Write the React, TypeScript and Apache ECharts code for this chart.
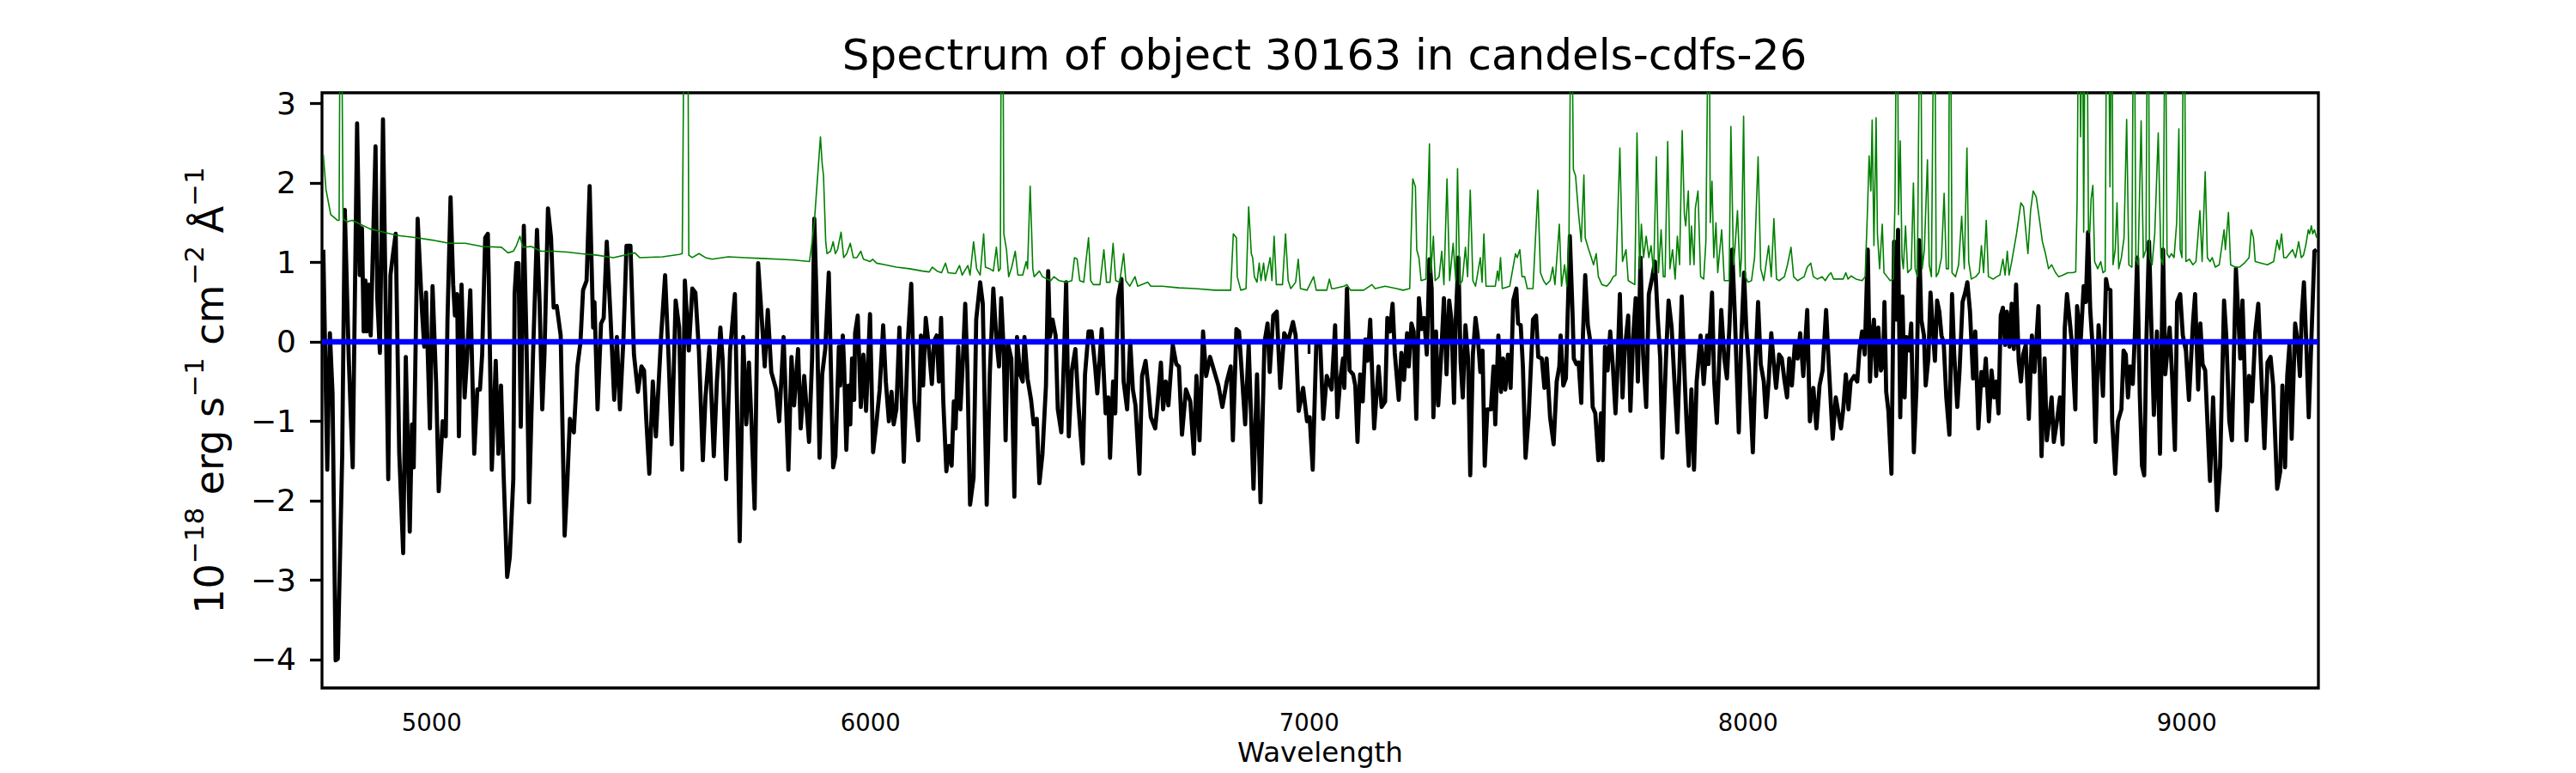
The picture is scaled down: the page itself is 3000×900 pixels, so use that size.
import React, { useEffect, useRef } from "react";
import * as echarts from "echarts";

const TITLE = "Spectrum of object 30163 in candels-cdfs-26";
const X_LABEL = "Wavelength";
const X_TICKS = [5000, 6000, 7000, 8000, 9000];
const Y_TICKS = [-4, -3, -2, -1, 0, 1, 2, 3];
const X_RANGE = [4750, 9300];
const Y_RANGE = [-4.357, 3.135];

// Flux (black): [wavelength, flux]
const fluxA: [number, number][] = [
  [4753,1.16],[4762,-1.61],[4768,0.11],[4774,-0.65],[4781,-4.01],[4786,-3.99],[4796,-1.44],[4802,1.66],[4811,-0.21],[4820,-1.58],[4830,2.75],[4836,0.84],[4841,1.43],[4845,0.13],[4849,0.77],[4852,0.13],[4856,0.72],[4861,0.08],[4872,2.46],[4876,0.55],[4882,-0.14],[4889,2.8],[4895,0.52],[4901,-1.73],[4906,0.84],[4912,1.11],[4918,1.36],[4926,-1.39],[4935,-2.66],[4941,-0.19],[4950,-2.39],[4955,-1.04],[4959,-1.58],[4968,1.55],[4978,0.38],[4983,-0.06],[4987,0.62],[4996,-1.09],[5002,0.7],[5010,-0.5],[5016,-1.88],[5025,-1.0],[5032,-1.19],[5036,0.28],[5043,1.82],[5049,0.72],[5053,0.33],[5058,0.6],[5062,-1.19],[5068,0.72],[5075,-0.7],[5081,-0.16],[5088,0.65],[5097,-1.41],[5104,-0.6],[5110,-0.6],[5115,-0.16],[5122,1.31],[5128,1.36],[5130,0.82],[5137,-1.61],[5146,-0.24],[5152,-1.41],[5158,-0.55],[5164,-1.68],[5172,-2.96],[5178,-2.71],[5186,-1.73],[5189,0.6],[5193,0.99],[5198,0.99],[5203,-1.07],[5210,1.46],[5216,0.03],[5222,-2.02],[5231,-0.16],[5240,1.41],[5246,0.48],[5252,-0.85],[5257,-0.16],[5265,1.68],[5272,1.31],[5278,0.43],[5285,0.45],[5294,0.08],[5303,-2.44],[5309,-1.78],[5315,-0.97],[5324,-1.14],[5332,-0.31],[5339,-0.01],[5345,0.65],[5353,0.77],[5360,1.96],[5368,0.18],[5371,0.5],[5378,-0.85],[5386,0.23],[5392,0.3],[5399,1.26],[5407,0.38],[5416,-0.73],[5422,0.06],[5429,-0.85],[5437,0.03],[5444,1.21],[5453,1.21],[5461,-0.16],[5470,-0.63],[5478,-0.31],[5484,-0.36],[5489,-0.97],[5496,-1.66],[5504,-0.5],[5511,-1.19],[5523,0.08],[5532,0.84],[5540,-0.21],[5547,-1.29],[5556,0.52],[5564,0.18],[5571,-1.61],[5577,0.77],[5586,-0.11],[5594,0.67],[5601,0.62],[5609,-0.11],[5618,-1.49],[5624,-0.7],[5633,-0.06],[5643,-1.44],[5650,-0.5],[5658,0.18],[5663,-0.21],[5671,-1.73],[5680,-0.11],[5691,0.6],[5702,-2.51],[5710,0.06],[5717,-1.04],[5723,-0.26],[5729,-1.04],[5736,-2.1],[5744,0.99],[5753,0.23],[5759,-0.31],[5766,0.4],[5774,-0.38],[5785,-0.6],[5792,-1.0],[5802,0.06],[5813,-1.61],[5820,-0.19],[5826,-0.8],[5835,-0.09],[5841,-1.09],[5849,-0.43],[5860,-1.26],[5867,-0.21],[5872,1.55],[5877,0.57],[5884,-1.46],[5890,-0.41],[5897,-0.09],[5905,0.87],
];
const fluxB: [number, number][] = [
  [5915,-1.58],[5920,-1.44],[5928,-0.06],[5931,-0.55],[5937,0.08],[5940,-0.31],[5945,-1.36],[5950,-0.55],[5954,-1.04],[5958,-0.21],[5963,-0.73],[5965,0.11],[5971,0.33],[5978,-0.82],[5984,-0.16],[5990,-0.87],[5999,0.35],[6006,-1.39],[6014,-1.0],[6021,-0.6],[6029,0.21],[6035,-0.5],[6042,-1.0],[6048,-0.63],[6053,-1.04],[6059,-0.85],[6066,0.18],[6076,-1.51],[6085,-0.01],[6093,0.73],[6100,-0.75],[6109,-1.24],[6115,0.08],[6120,-0.55],[6126,0.3],[6132,-0.01],[6140,-0.53],[6145,0.01],[6151,0.08],[6156,-0.5],[6161,0.3],[6166,-0.75],[6173,-1.63],[6179,-1.31],[6185,-1.56],[6190,-0.75],[6194,-1.09],[6200,-0.06],[6205,-0.85],[6210,-0.31],[6216,0.48],[6221,-0.36],[6227,-2.05],[6235,-1.71],[6241,0.28],[6250,0.75],[6256,0.48],[6261,-1.0],[6265,-2.05],[6272,-0.41],[6280,0.67],[6287,0.03],[6293,-0.31],[6298,0.55],[6304,-0.16],[6308,-1.24],[6313,-0.01],[6321,-0.21],[6328,-1.95],[6334,0.06],[6341,-0.41],[6347,-0.5],[6351,0.06],[6358,-0.46],[6366,-0.73],[6372,-1.04],[6379,-0.97],[6385,-1.78],[6392,-1.41],[6400,-0.55],[6405,0.89],[6409,0.06],[6415,0.28],[6422,0.08],[6427,-0.85],[6435,-1.14],[6441,-0.21],[6446,0.75],[6452,-1.19],[6459,-0.36],[6467,-0.09],[6474,-0.8],[6484,-1.53],[6489,-0.41],[6497,0.13],[6504,0.13],[6512,-0.31],[6517,-0.65],[6527,0.16],[6536,-0.9],[6542,-0.7],[6546,-1.46],[6553,-0.5],[6558,-0.9],[6564,0.55],[6572,0.79],[6577,-0.5],[6585,-0.85],[6592,0.01],[6598,-0.6],[6604,-0.8],[6613,-1.66],[6619,-0.43],[6627,-0.24],[6632,-0.5],[6639,-0.95],[6649,-1.09],[6654,-0.8],[6662,-0.26],[6667,-0.85],[6673,-0.5],[6679,-0.8],[6689,-0.04],[6697,-0.28],[6703,-0.31],[6710,-1.17],[6719,-0.6],[6729,-0.75],[6737,-1.41],[6743,-0.43],[6750,-1.24],[6758,0.13],[6765,-0.43],[6774,-0.19],[6784,-0.38],[6793,-0.55],[6802,-0.82],[6812,-0.5],[6821,-0.31],[6826,-1.24],[6834,0.16],[6840,0.13],[6845,-0.28],[6854,-1.04],[6862,-0.04],[6873,-1.85],[6881,-0.41],[6889,-2.02],[6898,-0.01],[6905,0.23],[6910,-0.38],[6918,0.33],[6926,0.38],[6934,-0.58],[6943,0.11],[6952,0.01],[6963,0.25],[6969,0.08],[6976,-0.87],[6986,-0.58],[6995,-1.0],[7001,-0.95],[7008,-1.61],[7016,-0.04],[7025,-0.01],[7032,-0.97],[7040,-0.43],[7051,-0.6],[7059,0.21],[7064,-0.95],
];
const fluxC: [number, number][] = [
  [7071,-0.46],[7077,-0.21],[7080,-0.58],[7086,0.67],[7092,-0.36],[7100,-0.41],[7105,-0.55],[7110,-1.26],[7116,-0.41],[7122,-0.75],[7128,0.03],[7133,-0.24],[7139,0.28],[7148,-1.09],[7158,-0.31],[7165,-0.82],[7173,-0.75],[7178,0.3],[7184,0.13],[7190,0.48],[7195,-0.14],[7204,-0.73],[7210,-0.14],[7216,-0.48],[7223,0.11],[7227,-0.31],[7233,0.23],[7238,0.13],[7244,-0.97],[7250,0.55],[7256,0.16],[7262,0.3],[7268,-0.16],[7274,1.04],[7279,0.67],[7283,-0.95],[7289,0.13],[7294,-0.8],[7300,-0.24],[7307,0.55],[7313,-0.41],[7319,0.52],[7324,0.28],[7330,-0.77],[7334,0.28],[7340,1.06],[7345,-0.26],[7350,-0.7],[7356,0.21],[7362,-0.21],[7367,-1.68],[7373,-0.16],[7379,0.3],[7384,0.08],[7390,-0.38],[7395,-0.11],[7400,-1.56],[7406,-0.85],[7414,-0.85],[7420,-0.31],[7424,-1.04],[7431,0.08],[7437,-0.63],[7442,-0.21],[7447,-0.6],[7453,-0.16],[7459,-0.58],[7465,0.52],[7472,0.67],[7476,0.23],[7482,0.21],[7487,-0.31],[7493,-1.46],[7500,-0.95],[7510,0.28],[7517,0.33],[7522,-0.19],[7530,-0.21],[7536,-0.58],[7541,-0.21],[7549,-0.95],[7557,-1.29],[7564,-0.5],[7570,-0.31],[7573,0.08],[7579,-0.55],[7585,-0.46],[7594,1.33],[7600,0.38],[7603,-0.21],[7609,-0.28],[7614,-0.26],[7620,-0.77],[7624,0.11],[7629,0.84],[7635,0.21],[7641,-0.01],[7646,-0.82],[7652,-0.9],[7659,-1.49],[7665,-0.9],[7669,-1.49],[7674,-0.06],[7680,-0.36],[7686,0.13],[7692,-0.31],[7698,-0.9],[7702,-0.41],[7708,0.6],[7714,-0.7],[7719,-0.11],[7727,0.33],[7732,-0.87],[7738,0.03],[7744,0.55],[7749,-0.5],[7755,1.06],[7761,-0.16],[7768,-0.82],[7774,0.6],[7782,0.82],[7788,1.01],[7794,0.33],[7800,-0.21],[7805,-1.46],[7813,-0.21],[7819,0.52],[7826,0.18],[7832,-0.46],[7839,-1.14],[7844,-0.31],[7849,0.57],[7856,-0.5],[7860,-1.02],[7865,-1.56],[7871,-0.6],[7877,-1.61],[7883,-0.5],[7892,0.08],[7899,-0.53],[7907,0.08],[7910,-0.28],[7918,0.62],[7923,-0.5],[7929,-1.02],[7939,0.4],[7946,-0.21],[7952,-0.46],[7958,0.23],[7964,1.16],[7970,0.33],[7979,-1.14],[7985,0.08],[7991,0.87],[7996,0.18],[8002,-0.31],[8011,-1.39],[8017,-0.31],[8023,0.5],[8029,-0.28],[8036,-0.5],[8041,-0.95],[8047,-0.5],[8053,0.11],[8059,-0.28],[8064,-0.58],[8071,-0.16],[8077,-0.21],[8083,-0.48],[8089,-0.7],[8094,-0.21],[8100,-0.55],[8107,-0.01],[8113,-0.21],[8119,0.11],[8126,-0.43],[8135,0.4],[8141,-1.0],[8149,-0.58],[8156,-1.09],[8163,-0.55],[8170,-0.36],[8178,0.4],[8185,-0.38],[8193,-1.22],[8200,-0.7],
];
const fluxD: [number, number][] = [
  [8212,-1.09],[8217,-0.85],[8223,-0.41],[8229,-0.85],[8234,-0.5],[8242,-0.43],[8249,-0.5],[8254,-0.11],[8260,0.13],[8266,-0.16],[8273,1.16],[8278,-0.5],[8283,0.08],[8287,0.28],[8292,-0.43],[8297,0.18],[8303,-0.36],[8308,-0.28],[8311,0.5],[8315,-0.63],[8320,-0.87],[8327,-1.66],[8333,1.26],[8338,0.28],[8342,1.41],[8347,-0.95],[8352,0.57],[8357,-0.7],[8361,0.06],[8367,-0.11],[8372,0.23],[8378,-1.39],[8384,-0.58],[8390,1.28],[8395,0.28],[8401,0.08],[8405,-0.55],[8411,-0.21],[8416,0.62],[8421,0.18],[8426,-0.24],[8431,0.52],[8436,0.38],[8441,0.08],[8446,-0.01],[8452,-0.7],[8459,-1.17],[8465,0.6],[8470,-0.16],[8477,-0.82],[8482,-0.38],[8489,0.5],[8495,0.62],[8500,0.75],[8506,0.38],[8513,-0.46],[8518,0.13],[8525,-1.09],[8532,-0.38],[8537,-0.55],[8542,-0.21],[8549,-1.0],[8555,-0.36],[8561,-0.7],[8566,-0.5],[8571,-0.9],[8576,0.33],[8581,0.43],[8586,-0.04],[8590,0.38],[8596,-0.06],[8601,0.48],[8606,-0.09],[8611,0.72],[8617,-0.24],[8622,-0.5],[8627,-0.16],[8633,-0.04],[8640,-0.97],[8647,0.08],[8653,-0.38],[8662,0.45],[8669,-1.44],[8676,-0.21],[8681,-1.24],[8686,-1.0],[8692,-0.7],[8697,-1.26],[8704,-1.0],[8711,-0.7],[8717,-1.29],[8722,0.18],[8727,0.6],[8733,0.28],[8738,-0.01],[8746,-0.85],[8750,0.45],[8758,-0.01],[8765,0.7],[8770,0.5],[8775,1.38],[8780,0.4],[8786,-0.11],[8792,-1.26],[8799,0.21],[8804,-0.16],[8809,-0.68],[8816,0.79],[8820,0.67],[8826,0.65],[8830,-1.0],[8837,-1.66],[8843,-1.0],[8851,-0.85],[8856,-0.11],[8861,-0.16],[8866,-0.7],[8871,-0.31],[8877,-0.53],[8882,0.13],[8887,1.06],[8893,-0.68],[8898,-1.56],[8903,-1.68],[8908,0.01],[8914,1.26],[8920,0.06],[8925,-0.92],[8932,0.13],[8939,-1.41],[8946,1.16],[8951,-0.41],[8955,-0.16],[8961,0.18],[8967,-0.48],[8973,-1.36],[8978,0.5],[8985,0.6],[8991,0.08],[8998,-0.11],[9005,-0.73],[9014,0.23],[9019,0.6],[9026,-0.6],[9031,0.23],[9036,-0.28],[9042,-0.36],[9047,-1.0],[9053,-1.75],[9060,-0.7],[9069,-2.12],[9076,-1.56],[9085,0.52],[9090,0.08],[9097,-1.0],[9103,-1.24],[9112,0.92],[9117,0.38],[9122,-0.21],[9127,0.52],[9131,-0.21],[9136,-1.24],[9142,-0.43],[9149,-0.75],[9156,0.11],[9163,0.48],[9168,-0.16],[9177,-1.34],[9184,-0.26],[9191,-0.19],[9197,-0.55],[9206,-1.85],[9213,-1.63],[9218,-0.55],[9224,-1.58],[9229,-0.43],[9234,-0.04],[9239,-1.22],[9247,0.23],[9253,-0.01],[9258,-0.43],[9262,0.33],[9267,0.75],[9273,-0.11],[9278,-0.95],[9284,0.03],[9291,1.14],[9296,1.16],
];

// Error / sky spectrum (green); lines that leave the top are given 4.0
const errA: [number, number][] = [
  [4753,2.36],[4759,1.92],[4770,1.6],[4785,1.53],[4789,1.53],[4791,4.0],[4795,4.0],[4798,1.55],[4807,1.51],[4819,1.53],[4837,1.48],[4860,1.42],[4890,1.38],[4920,1.34],[4965,1.31],[5002,1.28],[5040,1.24],[5077,1.24],[5115,1.2],[5159,1.19],[5174,1.12],[5186,1.14],[5193,1.21],[5201,1.33],[5208,1.19],[5227,1.2],[5249,1.14],[5279,1.14],[5309,1.13],[5339,1.11],[5377,1.09],[5414,1.06],[5463,1.12],[5474,1.06],[5526,1.07],[5564,1.1],[5571,1.11],[5575,4.0],[5584,4.0],[5586,1.09],[5594,1.06],[5609,1.11],[5624,1.06],[5639,1.04],[5676,1.07],[5714,1.06],[5751,1.05],[5789,1.04],[5826,1.03],[5861,1.01],[5867,1.26],[5872,1.5],[5886,2.58],[5890,2.24],[5893,2.09],
];
const errB: [number, number][] = [
  [5898,1.26],[5901,1.11],[5909,1.14],[5915,1.26],[5920,1.11],[5925,1.16],[5933,1.38],[5939,1.06],[5946,1.11],[5954,1.24],[5961,1.06],[5969,1.06],[5978,1.14],[5984,1.04],[5999,1.01],[6005,1.04],[6014,0.99],[6033,0.97],[6059,0.94],[6089,0.92],[6119,0.89],[6134,0.88],[6141,0.94],[6152,0.89],[6162,0.87],[6171,0.99],[6177,0.87],[6194,0.86],[6203,0.96],[6209,0.84],[6222,0.96],[6227,0.84],[6235,1.26],[6242,0.92],[6250,0.84],[6258,1.36],[6262,0.94],[6272,0.92],[6280,0.89],[6287,1.19],[6292,0.89],[6296,0.92],[6298,4.0],[6302,4.0],[6304,1.36],[6310,1.16],[6315,0.82],[6322,0.94],[6330,1.14],[6336,0.84],[6347,0.84],[6355,1.01],[6358,0.92],[6364,1.96],[6370,0.92],[6373,0.82],[6385,0.89],[6392,0.82],[6403,0.79],[6411,0.77],[6418,0.82],[6430,0.77],[6448,0.75],[6459,0.77],[6465,1.06],[6471,1.04],[6477,0.77],[6486,0.75],[6497,1.31],[6502,0.77],[6508,0.72],[6523,0.72],[6532,1.16],[6538,0.75],[6546,0.75],[6553,1.24],[6559,0.77],[6568,0.75],[6577,1.11],[6582,0.77],[6591,0.7],[6603,0.82],[6609,0.7],[6632,0.75],[6639,0.7],[6665,0.7],[6703,0.68],[6740,0.67],[6785,0.65],[6821,0.65],[6827,1.36],[6834,1.31],[6836,0.82],[6844,0.65],[6856,0.67],[6862,1.7],[6868,1.11],[6871,1.06],[6875,0.82],[6881,0.75],[6886,0.99],[6890,0.77],[6896,0.99],[6900,0.77],[6911,1.06],[6915,0.77],[6920,1.33],[6925,0.72],[6939,0.72],[6946,1.36],[6952,0.77],[6958,0.67],[6969,0.75],[6975,1.04],[6980,0.67],[6995,0.65],[7010,0.82],[7016,0.65],[7040,0.65],[7046,0.79],[7051,0.67],
];
const errC: [number, number][] = [
  [7056,0.67],[7079,0.7],[7086,0.72],[7094,0.65],[7124,0.65],[7143,0.72],[7150,0.67],[7173,0.7],[7199,0.67],[7214,0.65],[7229,0.67],[7236,2.05],[7242,1.95],[7245,1.16],[7250,1.06],[7255,0.77],[7266,0.79],[7274,2.49],[7277,0.87],[7283,1.33],[7287,0.77],[7296,0.82],[7302,1.14],[7307,0.72],[7314,2.05],[7320,0.77],[7328,1.24],[7334,0.77],[7338,2.18],[7343,0.72],[7349,0.77],[7356,1.19],[7361,0.82],[7367,1.91],[7373,0.77],[7379,0.7],[7390,1.06],[7394,0.75],[7398,1.36],[7403,0.7],[7424,0.7],[7429,0.89],[7432,0.77],[7436,1.06],[7440,0.67],[7457,0.7],[7470,1.11],[7474,1.06],[7480,1.16],[7485,0.82],[7491,0.82],[7497,0.67],[7510,0.67],[7521,1.91],[7527,0.87],[7534,0.77],[7540,0.72],[7549,0.77],[7555,0.94],[7560,0.72],[7570,1.48],[7575,0.7],[7582,0.97],[7587,0.7],[7592,1.31],[7596,4.0],[7599,4.0],[7602,2.17],[7607,2.09],[7614,1.6],[7620,1.26],[7626,2.1],[7629,1.31],[7637,1.16],[7643,1.06],[7648,0.97],[7654,1.11],[7659,0.82],[7667,0.72],[7678,0.7],[7686,0.75],[7693,0.82],[7699,0.84],[7708,2.44],[7714,1.01],[7722,1.16],[7727,0.77],[7742,0.72],[7747,2.63],[7753,0.92],[7757,1.48],[7762,1.06],[7768,1.33],[7774,1.06],[7779,1.21],[7785,0.87],[7791,2.33],[7796,0.87],[7802,1.41],[7807,0.82],[7811,0.82],[7817,2.52],[7822,0.92],[7828,1.16],[7834,0.79],[7839,1.33],[7844,0.97],[7850,2.66],[7855,1.6],[7858,1.46],[7864,1.9],[7868,0.97],[7871,1.46],[7877,0.97],[7880,1.68],[7886,1.9],[7892,0.82],[7899,0.79],[7904,1.26],[7909,4.0],[7912,4.0],[7914,1.5],[7918,2.02],[7922,1.06],[7927,1.5],[7931,0.87],[7940,1.41],[7946,0.77],[7957,0.77],[7961,2.71],[7967,0.97],[7970,1.16],[7976,1.65],[7982,0.82],[7985,1.06],[7990,2.84],[7994,0.82],[8000,0.75],[8008,0.77],[8015,1.06],[8023,2.33],[8029,0.92],[8036,0.77],[8047,1.21],[8053,0.82],[8059,1.55],[8065,0.79],[8071,0.77],[8083,0.82],[8090,0.97],[8098,1.19],[8104,0.82],[8113,0.77],[8128,0.82],[8135,0.94],[8143,0.99],[8149,0.82],[8158,0.79],[8169,0.82],[8176,0.77],[8184,0.84],[8189,0.87],[8195,0.79],[8206,0.79],
];
const errD: [number, number][] = [
  [8217,0.79],[8223,0.87],[8228,0.79],[8235,0.83],[8246,0.79],[8260,0.77],[8267,0.82],[8272,1.6],[8276,2.34],[8280,1.9],[8283,2.79],[8287,1.21],[8292,2.82],[8295,1.36],[8300,0.92],[8306,1.48],[8310,0.87],[8317,0.82],[8324,0.77],[8331,0.79],[8335,1.75],[8338,4.0],[8341,4.0],[8343,1.6],[8347,2.53],[8351,1.06],[8354,0.92],[8359,1.46],[8364,0.87],[8372,0.92],[8377,2.0],[8381,0.92],[8386,0.82],[8391,4.0],[8394,4.0],[8397,0.92],[8402,1.16],[8409,2.29],[8413,0.97],[8418,0.82],[8423,4.0],[8426,4.0],[8429,0.82],[8434,0.87],[8441,1.06],[8447,1.87],[8452,0.92],[8457,0.92],[8459,4.0],[8462,4.0],[8465,0.87],[8473,0.82],[8480,0.97],[8487,1.58],[8493,0.92],[8499,2.44],[8503,1.01],[8509,0.79],[8519,0.82],[8527,0.87],[8532,1.21],[8537,0.87],[8543,1.53],[8548,0.82],[8559,0.79],[8567,0.82],[8574,0.84],[8581,1.04],[8586,0.84],[8591,1.14],[8595,0.84],[8601,1.01],[8612,1.36],[8622,1.75],[8628,1.7],[8633,1.41],[8638,1.11],[8644,1.65],[8650,1.9],[8657,1.82],[8664,1.55],[8671,1.26],[8678,1.11],[8685,0.92],[8692,0.97],[8701,0.87],[8708,0.82],[8718,0.84],[8729,0.87],[8740,0.87],[8747,0.88],[8750,1.75],[8753,4.0],[8756,4.0],[8758,2.58],[8761,4.0],[8763,4.0],[8765,1.38],[8768,4.0],[8773,4.0],[8776,1.38],[8779,1.38],[8782,1.8],[8786,1.97],[8790,1.01],[8797,0.92],[8804,1.01],[8809,0.87],[8814,0.89],[8817,4.0],[8822,4.0],[8825,1.95],[8828,4.0],[8830,4.0],[8832,0.97],[8837,1.16],[8841,1.75],[8845,0.92],[8851,1.06],[8857,1.31],[8863,2.8],[8868,0.97],[8875,0.94],[8878,4.0],[8881,4.0],[8884,1.04],[8889,0.97],[8896,2.78],[8901,1.06],[8907,1.16],[8910,4.0],[8913,4.0],[8915,1.06],[8921,0.97],[8927,1.36],[8935,2.63],[8941,1.06],[8946,0.97],[8950,4.0],[8952,4.0],[8955,1.11],[8960,1.06],[8965,1.11],[8971,1.06],[8977,1.5],[8982,2.68],[8985,1.16],[8989,1.06],[8992,4.0],[8995,4.0],[8998,1.01],[9006,1.04],[9014,0.97],[9021,1.01],[9030,1.65],[9035,1.01],[9042,2.14],[9047,1.06],[9053,1.01],[9058,1.06],[9065,0.94],[9074,0.97],[9085,1.41],[9088,1.16],[9095,1.63],[9100,0.97],[9110,0.94],[9120,0.94],[9131,0.99],[9142,1.06],[9147,1.41],[9152,1.31],[9156,1.01],[9170,0.99],[9184,0.97],[9198,1.01],[9206,1.28],[9211,1.16],[9216,1.36],[9221,1.06],[9227,1.06],[9234,1.11],[9241,1.16],[9248,1.06],[9255,1.26],[9261,1.06],[9266,1.09],[9271,1.21],[9277,1.41],[9280,1.36],[9284,1.46],[9287,1.36],[9291,1.41],[9296,1.31],
];

const zeroLine: [number, number][] = [[4750, 0], [9300, 0]];

const FONT = "DejaVu Sans";

export default function App() {
  const ref = useRef<HTMLDivElement>(null);
  useEffect(() => {
    document.body.style.margin = "0";
    if (!ref.current) return;
    const chart = echarts.init(ref.current, undefined, { renderer: "svg" });
    const flux = [...fluxA, ...fluxB, ...fluxC, ...fluxD];
    const err = [...errA, ...errB, ...errC, ...errD];
    const minus = (v: number) => String(v).replace("-", "\u2212");
    chart.setOption({
      animation: false,
      backgroundColor: "#ffffff",
      title: {
        text: TITLE,
        left: 1537.5,
        top: 34,
        textAlign: "center",
        textStyle: { fontFamily: FONT, fontSize: 50, fontWeight: "normal", color: "#000" },
      },
      grid: {
        left: 375,
        right: 300,
        top: 108,
        bottom: 99,
        show: true,
        borderColor: "#000",
        borderWidth: 3.3,
        backgroundColor: "transparent",
      },
      xAxis: {
        type: "value",
        min: X_RANGE[0],
        max: X_RANGE[1],
        axisLine: { show: false },
        splitLine: { show: false },
        axisTick: {
          show: true,
          inside: false,
          length: 14,
          customValues: X_TICKS,
          lineStyle: { color: "#000", width: 3.3 },
        },
        axisLabel: {
          customValues: X_TICKS,
          fontFamily: FONT,
          fontSize: 27.5,
          color: "#000",
          margin: 26,
          formatter: (v: number) => String(v),
        },
        name: X_LABEL,
        nameLocation: "middle",
        nameGap: 58,
        nameTextStyle: { fontFamily: FONT, fontSize: 32.5, color: "#000" },
      },
      yAxis: {
        type: "value",
        min: Y_RANGE[0],
        max: Y_RANGE[1],
        axisLine: { show: false },
        splitLine: { show: false },
        axisTick: {
          show: true,
          inside: false,
          length: 14,
          customValues: Y_TICKS,
          lineStyle: { color: "#000", width: 3.3 },
        },
        axisLabel: {
          customValues: Y_TICKS,
          fontFamily: FONT,
          fontSize: 36,
          color: "#000",
          margin: 30,
          formatter: minus,
        },
        name: "{b|10}{s|\u221218}{b| erg s}{s|\u22121}{b| cm}{s|\u22122}{b| \u00c5}{s|\u22121}",
        nameLocation: "middle",
        nameRotate: 90,
        nameGap: 97,
        nameTextStyle: {
          fontFamily: FONT,
          color: "#000",
          rich: {
            b: { fontFamily: FONT, fontSize: 46, lineHeight: 68, color: "#000" },
            s: { fontFamily: FONT, fontSize: 31, lineHeight: 38, verticalAlign: "top", color: "#000" },
          },
        },
      },
      series: [
        {
          type: "line",
          data: flux,
          showSymbol: false,
          symbol: "none",
          z: 2,
          lineStyle: { color: "#000000", width: 4.8, join: "round" },
        },
        {
          type: "line",
          data: zeroLine,
          showSymbol: false,
          symbol: "none",
          z: 3,
          lineStyle: { color: "#0000ff", width: 6.5 },
        },
        {
          type: "line",
          data: err,
          showSymbol: false,
          symbol: "none",
          z: 4,
          lineStyle: { color: "#008000", width: 1.6, join: "round" },
        },
      ],
    });
    return () => chart.dispose();
  }, []);
  return <div ref={ref} style={{ width: 3000, height: 900 }} />;
}
